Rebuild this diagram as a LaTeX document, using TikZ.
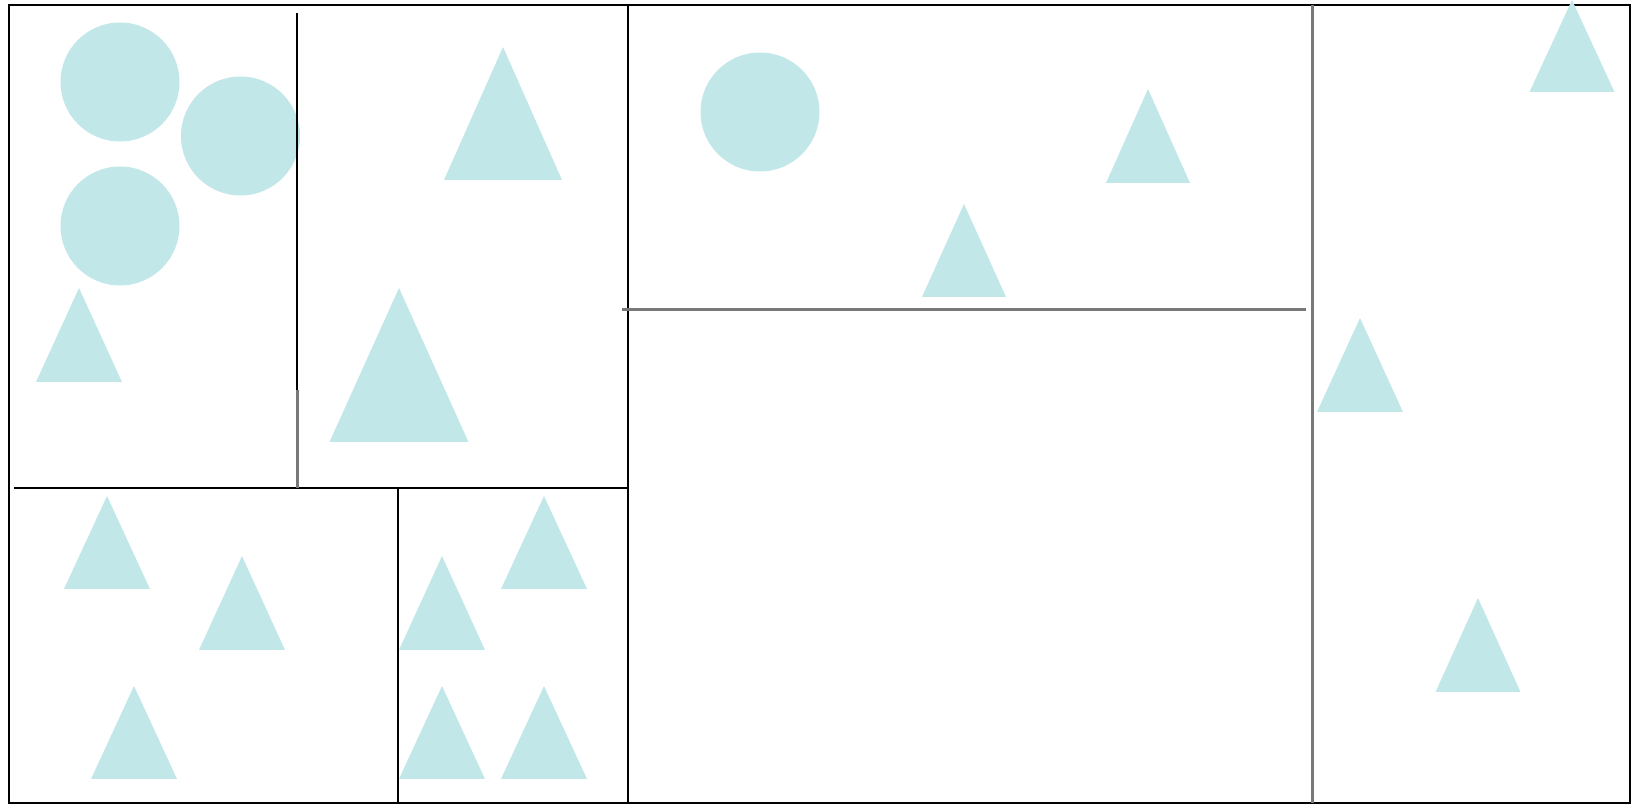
\documentclass[tikz,border=0pt]{standalone}
\usepackage{tikz}
\definecolor{shapefill}{RGB}{194, 231, 232}
\definecolor{splitgrey}{RGB}{120, 120, 120}

\begin{document}
\begin{tikzpicture}[
    x=0.1mm, y=-0.1mm,
    frame/.style={draw=black, line width=0.22mm},
    split/.style={draw=black, line width=0.22mm},
    softsplit/.style={draw=splitgrey, line width=0.3mm},
    blob/.style={fill=shapefill, draw=none}
]
    \useasboundingbox (0,0) rectangle (1634,805);

    % outer frame
    \coordinate (nw) at (9,5);
    \coordinate (se) at (1630,803);
    \draw[frame] (nw) rectangle (se);

    % circles
    \foreach \cx/\cy in {120/82, 240.5/136, 120/226, 760/112}
        \fill[blob] (\cx,\cy) circle (59.5);

    % triangles: apex x / apex y / base y / half width
    \foreach \ax/\ay/\by/\hw in {
        79/288/382/43, 503/47/180/59, 399/288/442/69.5,
        107/496/589/43, 242/556/650/43, 134/686/779/43,
        442/556/650/43, 544/496/589/43, 442/686/779/43, 544/686/779/43,
        964/204/297/42, 1148/89/183/42,
        1572/0/92/42.5, 1360/318/412/43, 1478/598/692/42.5}
        \fill[blob] (\ax,\ay) -- (\ax+\hw,\by) -- (\ax-\hw,\by) -- cycle;

    % dividing lines
    \coordinate (midtop) at (628,5);
    \coordinate (midbot) at (628,803);
    \draw[split] (midtop) -- (midbot);
    \draw[split] (14,488) -- (628,488);
    \draw[split] (297,13) -- (297,390);
    \draw[softsplit] (297,390) -- (297,488);
    \draw[split] (398,488) -- (398,803);
    \draw[softsplit] (622,310) -- (1306,310);
    \draw[softsplit] (1312,5) -- (1312,803);
\end{tikzpicture}
\end{document}
